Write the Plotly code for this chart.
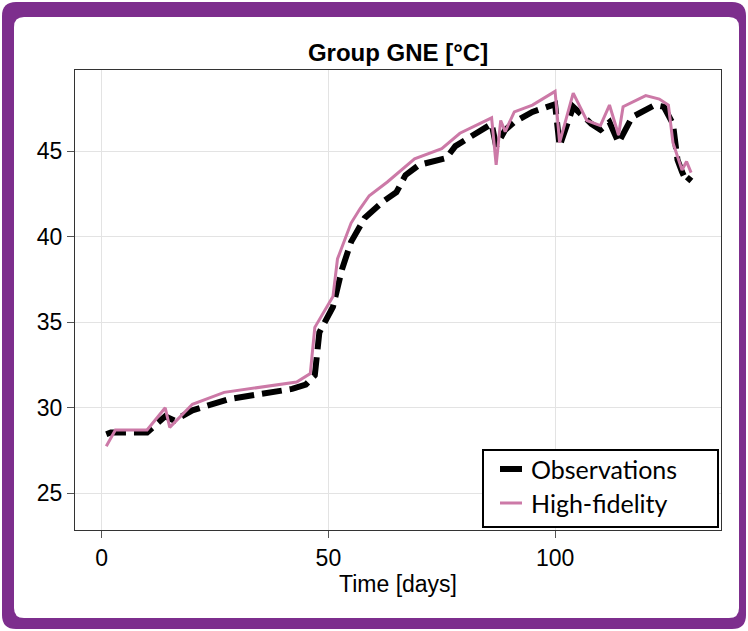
import plotly.graph_objects as go

# Observed group temperature (day, °C)
obs_days = [1, 2, 10, 14, 16, 20, 28, 42, 45, 47, 48, 51, 53, 55, 58, 62, 65, 67, 70,
            76, 78, 84, 86, 87, 89, 91, 95, 100, 101, 104, 108, 110, 112, 114, 117,
            122, 124, 126, 127, 128, 129, 130]
obs_temp = [28.45, 28.55, 28.55, 29.5, 29.25, 29.85, 30.5, 31.1, 31.35, 31.9, 34.4,
            35.9, 38.1, 39.7, 41.1, 42.05, 42.6, 43.6, 44.2, 44.6, 45.3, 46.25, 46.6,
            45.3, 46.25, 46.7, 47.3, 47.75, 45.3, 47.6, 46.6, 46.25, 46.7, 45.5, 47.0,
            47.7, 47.6, 46.6, 44.5, 43.8, 43.2, 43.5]

# High-fidelity model output (day, °C)
hf_days = [1, 3, 10, 14, 15, 20, 27, 43, 46, 47, 51, 52, 55, 57, 59, 63, 69, 75, 79,
           86, 87, 88, 89, 91, 95, 100, 101, 104, 107, 110, 112, 113, 114, 115, 120,
           123, 125, 126, 127, 128, 129, 130]
hf_temp = [27.75, 28.7, 28.7, 30.0, 28.85, 30.2, 30.9, 31.5, 32.0, 34.7, 36.5, 38.7,
           40.8, 41.65, 42.4, 43.2, 44.55, 45.15, 46.05, 46.95, 44.2, 46.8, 46.15, 47.3,
           47.7, 48.5, 45.5, 48.4, 46.8, 46.5, 47.7, 46.8, 45.95, 47.6, 48.25, 48.05,
           47.7, 45.5, 44.65, 43.9, 44.4, 43.75]

series_names = ["Observations", "High-fidelity"]
x_ticks = [0, 50, 100]
y_ticks = [25, 30, 35, 40, 45]

W, H = 748, 631
L, R, T, B = 75, 721, 70, 530
PURPLE = "#7D2E8D"
PINK = "#CC79A7"


def px(xp):
    return (xp - L) / (R - L)


def py(yp):
    return (B - yp) / (B - T)


def rounded_rect(x0, y0, x1, y1, r):
    # pixel rectangle with rounded corners -> SVG path in paper units
    pts = [
        f"M {px(x0 + r)} {py(y0)}",
        f"L {px(x1 - r)} {py(y0)}",
        f"Q {px(x1)} {py(y0)} {px(x1)} {py(y0 + r)}",
        f"L {px(x1)} {py(y1 - r)}",
        f"Q {px(x1)} {py(y1)} {px(x1 - r)} {py(y1)}",
        f"L {px(x0 + r)} {py(y1)}",
        f"Q {px(x0)} {py(y1)} {px(x0)} {py(y1 - r)}",
        f"L {px(x0)} {py(y0 + r)}",
        f"Q {px(x0)} {py(y0)} {px(x0 + r)} {py(y0)}",
        "Z",
    ]
    return " ".join(pts)


fig = go.Figure()
fig.add_trace(go.Scatter(
    x=obs_days, y=obs_temp, mode="lines", name=series_names[0], showlegend=False,
    line=dict(color="black", width=6, dash="20px,8px"),
))
fig.add_trace(go.Scatter(
    x=hf_days, y=hf_temp, mode="lines", name=series_names[1], showlegend=False,
    line=dict(color=PINK, width=3),
))

axis_common = dict(
    showline=True, mirror=True, linecolor="#333333", linewidth=1.2,
    showgrid=True, gridcolor="#e3e3e3", gridwidth=1,
    ticks="outside", ticklen=7, tickcolor="#555555", tickwidth=1,
    zeroline=False,
    tickfont=dict(family="Liberation Sans", size=23, color="black"),
)

# Boxed legend in the lower-right corner of the axes
leg_box = (483, 450, 718, 527)
leg_rows = [469, 503]
leg_styles = [dict(color="black", width=6), dict(color=PINK, width=3)]
shapes = [
    dict(type="path", xref="paper", yref="paper", layer="below",
         path=rounded_rect(2, 2, 746, 629, 14), fillcolor=PURPLE, line=dict(width=0)),
    dict(type="path", xref="paper", yref="paper", layer="below",
         path=rounded_rect(14, 17, 739, 618, 10), fillcolor="white", line=dict(width=0)),
    dict(type="rect", xref="paper", yref="paper", layer="above",
         x0=px(leg_box[0]), x1=px(leg_box[2]), y0=py(leg_box[3]), y1=py(leg_box[1]),
         fillcolor="white", line=dict(color="black", width=2)),
]
annotations = []
for name, row, style in zip(series_names, leg_rows, leg_styles):
    shapes.append(dict(type="line", xref="paper", yref="paper", layer="above",
                       x0=px(500), x1=px(522), y0=py(row), y1=py(row), line=style))
    annotations.append(dict(text=name, xref="paper", yref="paper", x=px(529), y=py(row),
                            xanchor="left", yanchor="middle", showarrow=False,
                            font=dict(family="Lato", size=25, color="black")))

fig.update_layout(
    width=W, height=H,
    margin=dict(l=L, r=W - R, t=T, b=H - B, pad=0),
    paper_bgcolor="white",
    plot_bgcolor="rgba(0,0,0,0)",
    showlegend=False,
    title=dict(
        text="<b>Group GNE [°C]</b>", x=px(398), xref="paper", xanchor="center",
        y=1 - 53 / H, yref="container", yanchor="middle",
        font=dict(family="Liberation Sans", size=24, color="black"),
    ),
    xaxis=dict(
        range=[-5.9, 136.6], tickvals=x_ticks,
        title=dict(text="Time [days]", standoff=6,
                   font=dict(family="Liberation Sans", size=23, color="black")),
        **axis_common,
    ),
    yaxis=dict(range=[22.85, 49.75], tickvals=y_ticks, **axis_common),
    shapes=shapes,
    annotations=annotations,
)

fig.write_html("out.html")
